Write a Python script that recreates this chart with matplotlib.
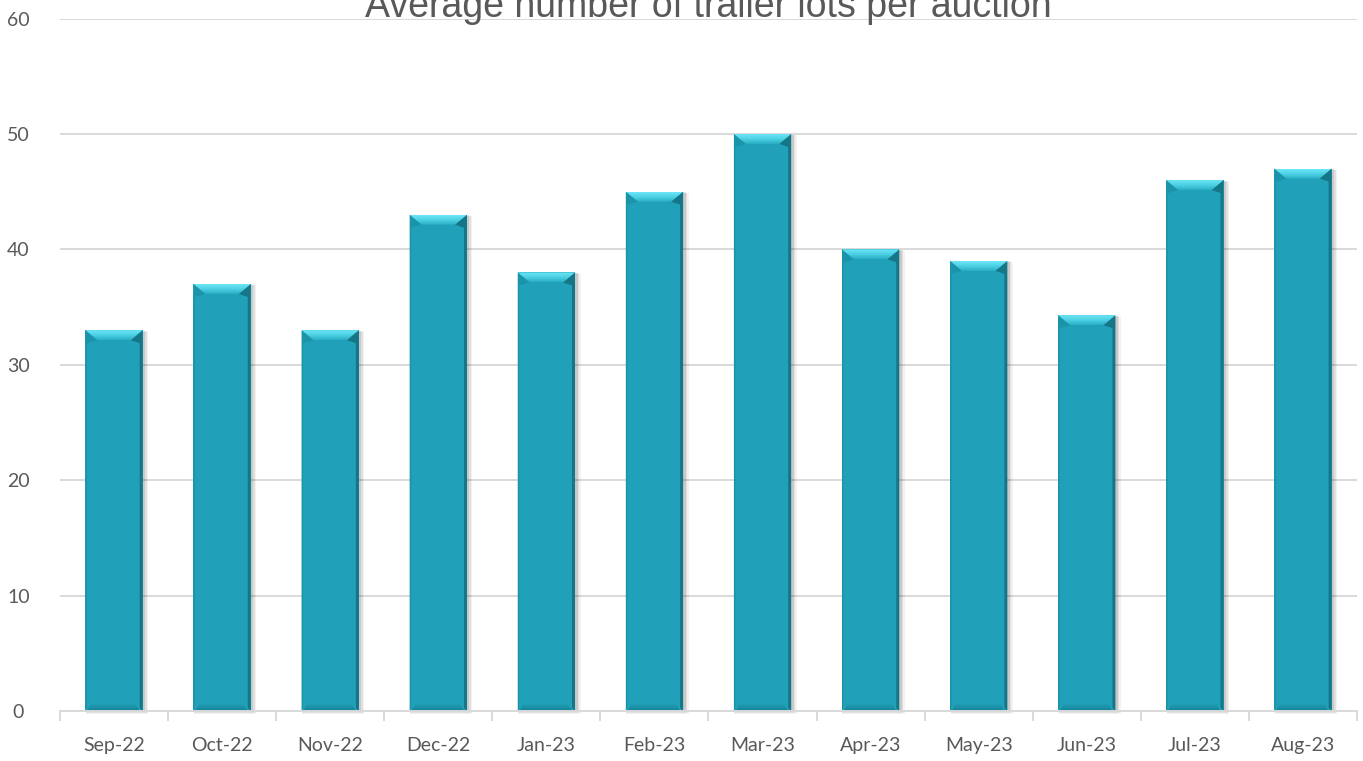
import numpy as np
import matplotlib
matplotlib.use('Agg')
import matplotlib.pyplot as plt
from matplotlib.patches import Polygon, Rectangle
from matplotlib.colors import LinearSegmentedColormap

months = ['Sep-22', 'Oct-22', 'Nov-22', 'Dec-22', 'Jan-23', 'Feb-23',
          'Mar-23', 'Apr-23', 'May-23', 'Jun-23', 'Jul-23', 'Aug-23']
avg_lots = [33, 37, 33, 43, 38, 45, 50, 40, 39, 34.3, 46, 47]
y_ticks = [0, 10, 20, 30, 40, 50, 60]

title = 'Average number of trailer lots per auction'

W, H = 1363, 761
fig = plt.figure(figsize=(W / 100, H / 100), dpi=100)
ax = fig.add_axes([60 / W, 1 - 711 / H, 1297 / W, 692.5 / H])

x = np.arange(len(months))
bar_w = 0.53
face = '#21a1b9'

ax.set_xlim(-0.5, len(months) - 0.5)
ax.set_ylim(0, 60)

# pixel -> data unit conversions for the bevel and shadow
px_x = len(months) / 1297.0
px_y = 60 / 692.5

top_cmap = LinearSegmentedColormap.from_list('top', ['#2aaec4', '#4cd0e4', '#6de6f7'])
bot_cmap = LinearSegmentedColormap.from_list('bot', ['#168296', face])
grad = np.linspace(0, 1, 64).reshape(-1, 1)

# soft drop shadow behind each bar
for xi, v in zip(x, avg_lots):
    for k, a in [(5, 0.05), (3.5, 0.07), (2, 0.10)]:
        ax.add_patch(Rectangle((xi - bar_w / 2 + 0.5 * px_x, -k * px_y * 0.6),
                               bar_w + k * px_x, v + k * px_y * 0.3,
                               color='#000000', alpha=a, lw=0, zorder=2,
                               clip_on=False))

ax.bar(x, avg_lots, width=bar_w, color=face, zorder=3, linewidth=0)

# bevelled edges
bx = 12 * px_x
by = 10 * px_y
bb = 8 * px_y
sx_r = 3 * px_x
sx_l = 1.5 * px_x
for xi, v in zip(x, avg_lots):
    l, r = xi - bar_w / 2, xi + bar_w / 2
    # left / right edges
    ax.add_patch(Polygon([(l, v), (l + bx, v - by), (l + sx_l, v - by - 3 * px_y),
                          (l + sx_l, bb * 0.4), (l, 0)],
                         closed=True, color='#1b93a9', lw=0, zorder=4))
    ax.add_patch(Polygon([(r, v), (r - bx, v - by), (r - sx_r, v - by - 3 * px_y),
                          (r - sx_r, bb * 0.4), (r, 0)],
                         closed=True, color='#147687', lw=0, zorder=4))
    # bottom facet, shaded
    bot = Polygon([(l + sx_l, 0), (r - sx_r, 0), (r - sx_r - bb / px_y * px_x * 0.6, bb),
                   (l + sx_l + bb / px_y * px_x * 0.6, bb)],
                  closed=True, facecolor='none', lw=0)
    ax.add_patch(bot)
    im = ax.imshow(grad, cmap=bot_cmap, aspect='auto', origin='lower',
                   extent=(l, r, 0, bb), zorder=4, interpolation='bilinear')
    im.set_clip_path(bot)
    # top facet, shaded
    top = Polygon([(l, v), (r, v), (r - bx, v - by), (l + bx, v - by)],
                  closed=True, facecolor='none', lw=0)
    ax.add_patch(top)
    im = ax.imshow(grad, cmap=top_cmap, aspect='auto', origin='lower',
                   extent=(l, r, v - by, v), zorder=5, interpolation='bilinear')
    im.set_clip_path(top)

ax.set_xlim(-0.5, len(months) - 0.5)
ax.set_ylim(0, 60)

ax.set_yticks(y_ticks)
ax.yaxis.grid(True, color='#d9d9d9', linewidth=1.4, zorder=0)
ax.set_axisbelow(True)

ax.set_xticks(x)
ax.set_xticklabels(months)
ax.set_xticks(np.arange(-0.5, len(months)), minor=True)
ax.tick_params(axis='x', which='major', length=0, pad=19)
ax.tick_params(axis='x', which='minor', length=7, width=1.4, color='#d9d9d9')
ax.tick_params(axis='y', length=0, pad=30)

for lab in ax.get_xticklabels() + ax.get_yticklabels():
    lab.set_fontfamily('Lato')
    lab.set_fontsize(14)
    lab.set_color('#595959')
for lab in ax.get_yticklabels():
    lab.set_horizontalalignment('center')

for s in ['top', 'right', 'left']:
    ax.spines[s].set_visible(False)
ax.spines['bottom'].set_color('#d9d9d9')
ax.spines['bottom'].set_linewidth(1.4)
ax.spines['bottom'].set_zorder(6)

fig.text((60 + 1297 / 2) / W, 1 - 17 / H, title, ha='center', va='baseline',
         fontfamily='Liberation Sans', fontsize=27, color='#595959')

fig.savefig('out.png', dpi=100)
